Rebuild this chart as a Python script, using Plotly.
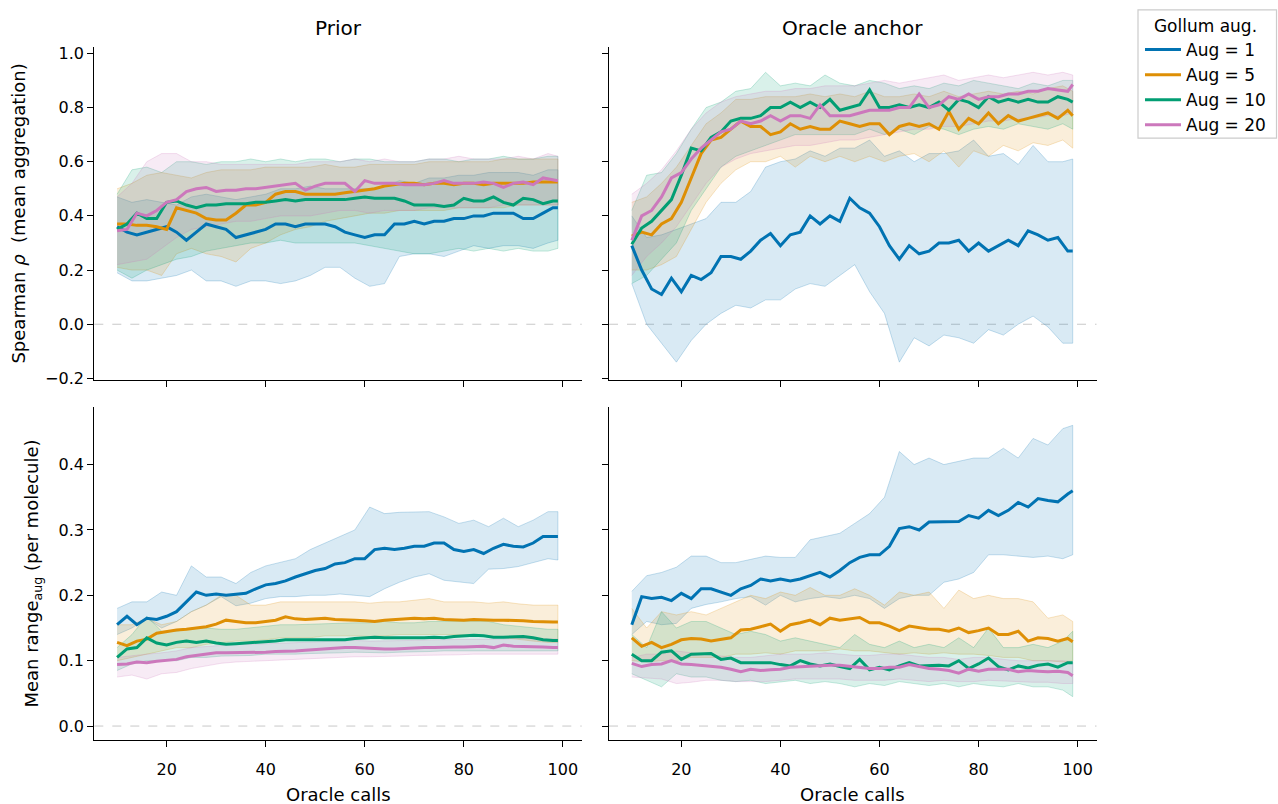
import plotly.graph_objects as go

# ---------------- data ----------------
XL = [10, 12, 14, 16, 18, 20, 22, 24, 26, 28, 30, 32, 34, 36, 38, 40, 42, 44, 46, 48,
      50, 52, 54, 56, 58, 60, 62, 64, 66, 68, 70, 72, 74, 76, 78, 80, 82, 84, 86, 88,
      90, 92, 94, 96, 98, 99]
XB = [10, 13, 16, 19, 22, 25, 28, 31, 34, 37, 40, 43, 46, 49, 52, 55, 58, 61, 64, 67,
      70, 73, 76, 79, 82, 85, 88, 91, 94, 97, 99]

series_names = ["Aug = 1", "Aug = 5", "Aug = 10", "Aug = 20"]
x_ticks = [20, 40, 60, 80, 100]
top_y_ticks = [-0.2, 0.0, 0.2, 0.4, 0.6, 0.8, 1.0]
bot_y_ticks = [0.0, 0.1, 0.2, 0.3, 0.4]

# ---- Prior, Spearman (top-left) ----
tl_mean_1 = [0.36, 0.34, 0.33, 0.34, 0.35, 0.36, 0.34, 0.31, 0.34, 0.37, 0.36, 0.35, 0.32, 0.33, 0.34, 0.35, 0.37, 0.37, 0.36, 0.37,
             0.37, 0.37, 0.36, 0.34, 0.33, 0.32, 0.33, 0.33, 0.37, 0.37, 0.38, 0.37, 0.38, 0.38, 0.39, 0.39, 0.40, 0.40, 0.41, 0.41,
             0.41, 0.39, 0.39, 0.41, 0.43, 0.43]
tl_mean_5 = [0.37, 0.37, 0.365, 0.365, 0.36, 0.35, 0.43, 0.42, 0.41, 0.39, 0.385, 0.385, 0.41, 0.44, 0.44, 0.45, 0.48, 0.49, 0.49, 0.48,
             0.48, 0.48, 0.48, 0.485, 0.49, 0.495, 0.50, 0.51, 0.515, 0.52, 0.52, 0.515, 0.52, 0.52, 0.515, 0.52, 0.52, 0.515, 0.52, 0.52,
             0.52, 0.52, 0.525, 0.525, 0.525, 0.525]
tl_mean_10 = [0.35, 0.37, 0.41, 0.39, 0.39, 0.45, 0.455, 0.44, 0.43, 0.44, 0.44, 0.445, 0.445, 0.445, 0.45, 0.45, 0.455, 0.46, 0.455, 0.46,
              0.46, 0.46, 0.46, 0.46, 0.465, 0.47, 0.465, 0.465, 0.465, 0.455, 0.44, 0.44, 0.44, 0.435, 0.44, 0.465, 0.455, 0.455, 0.47, 0.45,
              0.44, 0.465, 0.46, 0.445, 0.455, 0.455]
tl_mean_20 = [0.345, 0.35, 0.41, 0.40, 0.42, 0.45, 0.46, 0.49, 0.50, 0.505, 0.49, 0.495, 0.495, 0.50, 0.50, 0.505, 0.51, 0.515, 0.52, 0.495,
              0.51, 0.52, 0.52, 0.52, 0.49, 0.53, 0.52, 0.52, 0.52, 0.515, 0.515, 0.515, 0.52, 0.53, 0.52, 0.52, 0.52, 0.525, 0.52, 0.505,
              0.52, 0.525, 0.515, 0.54, 0.535, 0.53]
tl_hi_1 = [0.47, 0.45, 0.46, 0.45, 0.44, 0.47, 0.48, 0.47, 0.46, 0.47, 0.48, 0.50, 0.50, 0.51, 0.50, 0.50, 0.50, 0.50, 0.51, 0.53,
           0.52, 0.54, 0.54, 0.55, 0.55, 0.56, 0.56, 0.56, 0.55, 0.57, 0.57]
tl_lo_1 = [0.19, 0.16, 0.16, 0.17, 0.18, 0.20, 0.16, 0.16, 0.14, 0.16, 0.16, 0.15, 0.16, 0.18, 0.21, 0.21, 0.17, 0.14, 0.15, 0.25,
           0.26, 0.26, 0.25, 0.27, 0.29, 0.28, 0.29, 0.29, 0.28, 0.30, 0.31]
tl_hi_5 = [0.50, 0.52, 0.55, 0.56, 0.55, 0.54, 0.56, 0.57, 0.57, 0.57, 0.58, 0.58, 0.58, 0.58, 0.59, 0.58, 0.58, 0.59, 0.59, 0.59,
           0.59, 0.60, 0.60, 0.60, 0.60, 0.60, 0.61, 0.61, 0.61, 0.61, 0.61]
tl_lo_5 = [0.21, 0.20, 0.20, 0.18, 0.26, 0.28, 0.26, 0.25, 0.23, 0.28, 0.30, 0.33, 0.35, 0.36, 0.38, 0.39, 0.40, 0.41, 0.41, 0.42,
           0.42, 0.42, 0.42, 0.43, 0.43, 0.43, 0.43, 0.44, 0.44, 0.44, 0.44]
tl_hi_10 = [0.48, 0.57, 0.58, 0.56, 0.60, 0.60, 0.59, 0.60, 0.60, 0.61, 0.60, 0.61, 0.60, 0.61, 0.61, 0.60, 0.61, 0.61, 0.60, 0.60,
            0.60, 0.61, 0.61, 0.60, 0.61, 0.61, 0.62, 0.61, 0.61, 0.62, 0.62]
tl_lo_10 = [0.20, 0.17, 0.20, 0.22, 0.24, 0.25, 0.27, 0.28, 0.29, 0.30, 0.30, 0.31, 0.30, 0.30, 0.30, 0.30, 0.30, 0.29, 0.28, 0.27,
            0.26, 0.26, 0.27, 0.28, 0.27, 0.28, 0.27, 0.28, 0.27, 0.27, 0.28]
tl_hi_20 = [0.47, 0.52, 0.60, 0.63, 0.63, 0.60, 0.60, 0.59, 0.59, 0.59, 0.59, 0.59, 0.59, 0.60, 0.60, 0.60, 0.61, 0.60, 0.61, 0.60,
            0.60, 0.61, 0.61, 0.62, 0.61, 0.61, 0.61, 0.62, 0.61, 0.63, 0.62]
tl_lo_20 = [0.22, 0.23, 0.24, 0.28, 0.32, 0.35, 0.36, 0.37, 0.38, 0.38, 0.39, 0.40, 0.40, 0.40, 0.41, 0.42, 0.42, 0.41, 0.42, 0.42,
            0.42, 0.43, 0.43, 0.43, 0.43, 0.43, 0.44, 0.44, 0.44, 0.44, 0.44]

# ---- Oracle anchor, Spearman (top-right) ----
tr_mean_1 = [0.29, 0.20, 0.13, 0.11, 0.17, 0.12, 0.18, 0.165, 0.19, 0.25, 0.25, 0.24, 0.27, 0.31, 0.335, 0.29, 0.33, 0.34, 0.40, 0.37,
             0.40, 0.38, 0.465, 0.43, 0.41, 0.36, 0.29, 0.24, 0.29, 0.26, 0.27, 0.30, 0.30, 0.31, 0.27, 0.30, 0.27, 0.29, 0.31, 0.29,
             0.345, 0.33, 0.31, 0.32, 0.27, 0.27]
tr_mean_5 = [0.325, 0.34, 0.33, 0.37, 0.39, 0.45, 0.54, 0.63, 0.68, 0.69, 0.72, 0.75, 0.73, 0.73, 0.70, 0.71, 0.74, 0.72, 0.73, 0.72,
             0.72, 0.75, 0.74, 0.73, 0.74, 0.74, 0.70, 0.73, 0.74, 0.73, 0.74, 0.72, 0.785, 0.72, 0.76, 0.74, 0.78, 0.74, 0.77, 0.75,
             0.76, 0.77, 0.78, 0.76, 0.79, 0.77]
tr_mean_10 = [0.295, 0.355, 0.38, 0.42, 0.46, 0.55, 0.65, 0.64, 0.69, 0.71, 0.75, 0.76, 0.76, 0.77, 0.80, 0.80, 0.82, 0.80, 0.82, 0.80,
              0.83, 0.79, 0.80, 0.81, 0.865, 0.80, 0.80, 0.81, 0.80, 0.81, 0.80, 0.82, 0.79, 0.83, 0.82, 0.80, 0.84, 0.82, 0.83, 0.82,
              0.83, 0.82, 0.82, 0.84, 0.83, 0.82]
tr_mean_20 = [0.31, 0.40, 0.42, 0.47, 0.54, 0.56, 0.61, 0.65, 0.68, 0.71, 0.72, 0.75, 0.74, 0.75, 0.77, 0.75, 0.77, 0.77, 0.76, 0.81,
              0.77, 0.77, 0.77, 0.78, 0.79, 0.79, 0.79, 0.80, 0.80, 0.85, 0.80, 0.81, 0.84, 0.83, 0.85, 0.83, 0.84, 0.84, 0.85, 0.85,
              0.86, 0.86, 0.87, 0.865, 0.86, 0.885]
tr_hi_1 = [0.40, 0.32, 0.33, 0.35, 0.37, 0.39, 0.45, 0.45, 0.49, 0.58, 0.60, 0.61, 0.64, 0.62, 0.65, 0.65, 0.68, 0.62, 0.64, 0.60,
           0.63, 0.63, 0.64, 0.68, 0.62, 0.63, 0.59, 0.66, 0.60, 0.60, 0.61]
tr_lo_1 = [0.15, 0.0, -0.07, -0.14, -0.06, 0.0, 0.04, 0.07, 0.06, 0.09, 0.09, 0.13, 0.15, 0.14, 0.18, 0.22, 0.12, 0.04, -0.14, -0.05,
           -0.08, -0.04, -0.05, -0.07, -0.02, -0.04, 0.0, 0.03, -0.01, -0.07, -0.07]
tr_hi_5 = [0.45, 0.47, 0.52, 0.58, 0.66, 0.74, 0.78, 0.83, 0.83, 0.84, 0.84, 0.84, 0.85, 0.84, 0.85, 0.84, 0.86, 0.84, 0.84, 0.85,
           0.84, 0.86, 0.84, 0.85, 0.86, 0.85, 0.86, 0.85, 0.87, 0.88, 0.86]
tr_lo_5 = [0.20, 0.20, 0.22, 0.25, 0.35, 0.45, 0.52, 0.57, 0.60, 0.60, 0.62, 0.58, 0.62, 0.60, 0.62, 0.60, 0.62, 0.60, 0.62, 0.63,
           0.60, 0.64, 0.58, 0.64, 0.62, 0.66, 0.64, 0.67, 0.66, 0.68, 0.65]
tr_hi_10 = [0.42, 0.55, 0.56, 0.63, 0.72, 0.80, 0.82, 0.86, 0.87, 0.93, 0.88, 0.89, 0.88, 0.92, 0.89, 0.88, 0.90, 0.89, 0.87, 0.88,
            0.87, 0.89, 0.88, 0.90, 0.89, 0.88, 0.87, 0.89, 0.88, 0.90, 0.90]
tr_lo_10 = [0.15, 0.18, 0.24, 0.30, 0.42, 0.50, 0.58, 0.62, 0.64, 0.66, 0.68, 0.70, 0.70, 0.70, 0.70, 0.70, 0.72, 0.70, 0.72, 0.70,
            0.73, 0.72, 0.70, 0.72, 0.73, 0.72, 0.74, 0.73, 0.72, 0.74, 0.72]
tr_hi_20 = [0.48, 0.52, 0.57, 0.64, 0.72, 0.78, 0.82, 0.84, 0.85, 0.86, 0.86, 0.87, 0.87, 0.88, 0.88, 0.88, 0.89, 0.90, 0.89, 0.90,
            0.91, 0.92, 0.90, 0.91, 0.92, 0.91, 0.92, 0.93, 0.92, 0.93, 0.92]
tr_lo_20 = [0.18, 0.25, 0.30, 0.36, 0.44, 0.52, 0.58, 0.61, 0.63, 0.64, 0.65, 0.66, 0.66, 0.67, 0.68, 0.68, 0.69, 0.70, 0.71, 0.72,
            0.72, 0.73, 0.73, 0.74, 0.75, 0.75, 0.76, 0.76, 0.77, 0.77, 0.78]

# ---- Prior, mean range (bottom-left) ----
bl_mean_1 = [0.155, 0.168, 0.155, 0.165, 0.163, 0.168, 0.175, 0.19, 0.205, 0.20, 0.202, 0.20, 0.202, 0.203, 0.21, 0.216, 0.218, 0.222, 0.228, 0.233,
             0.238, 0.241, 0.248, 0.25, 0.256, 0.256, 0.27, 0.272, 0.27, 0.272, 0.275, 0.275, 0.28, 0.28, 0.27, 0.267, 0.27, 0.264, 0.272, 0.278,
             0.275, 0.274, 0.28, 0.29, 0.29, 0.29]
bl_mean_5 = [0.128, 0.123, 0.13, 0.133, 0.142, 0.145, 0.147, 0.148, 0.15, 0.152, 0.156, 0.162, 0.16, 0.158, 0.158, 0.16, 0.162, 0.167, 0.164, 0.163,
             0.164, 0.165, 0.163, 0.163, 0.162, 0.161, 0.16, 0.162, 0.163, 0.164, 0.165, 0.164, 0.165, 0.163, 0.162, 0.162, 0.163, 0.162, 0.162, 0.162,
             0.162, 0.161, 0.16, 0.159, 0.159, 0.159]
bl_mean_10 = [0.105, 0.118, 0.12, 0.135, 0.127, 0.124, 0.128, 0.13, 0.128, 0.13, 0.127, 0.125, 0.126, 0.127, 0.127, 0.128, 0.13, 0.132, 0.132, 0.133,
              0.133, 0.133, 0.133, 0.132, 0.134, 0.135, 0.136, 0.135, 0.135, 0.134, 0.135, 0.135, 0.136, 0.135, 0.137, 0.138, 0.139, 0.138, 0.136, 0.136,
              0.137, 0.137, 0.135, 0.132, 0.131, 0.131]
bl_mean_20 = [0.094, 0.095, 0.098, 0.097, 0.099, 0.1, 0.102, 0.106, 0.108, 0.111, 0.112, 0.112, 0.112, 0.112, 0.113, 0.113, 0.114, 0.114, 0.115, 0.116,
              0.117, 0.118, 0.12, 0.12, 0.12, 0.119, 0.118, 0.118, 0.118, 0.119, 0.12, 0.12, 0.12, 0.121, 0.121, 0.121, 0.122, 0.122, 0.12, 0.124,
              0.122, 0.122, 0.122, 0.121, 0.12, 0.12]
bl_hi_1 = [0.18, 0.19, 0.19, 0.205, 0.20, 0.245, 0.228, 0.228, 0.218, 0.235, 0.245, 0.25, 0.256, 0.27, 0.28, 0.29, 0.30, 0.335, 0.325, 0.327,
           0.327, 0.328, 0.32, 0.31, 0.315, 0.305, 0.318, 0.305, 0.315, 0.328, 0.328]
bl_lo_1 = [0.14, 0.15, 0.165, 0.15, 0.16, 0.175, 0.185, 0.198, 0.184, 0.188, 0.195, 0.198, 0.198, 0.20, 0.20, 0.202, 0.20, 0.198, 0.21, 0.22,
           0.228, 0.233, 0.223, 0.221, 0.218, 0.24, 0.241, 0.244, 0.25, 0.256, 0.254]
bl_hi_5 = [0.155, 0.155, 0.165, 0.155, 0.16, 0.175, 0.185, 0.20, 0.20, 0.185, 0.185, 0.19, 0.19, 0.19, 0.19, 0.19, 0.19, 0.188, 0.19, 0.19,
           0.192, 0.195, 0.19, 0.19, 0.19, 0.188, 0.19, 0.187, 0.185, 0.185, 0.185]
bl_lo_5 = [0.10, 0.105, 0.11, 0.115, 0.12, 0.12, 0.125, 0.128, 0.13, 0.13, 0.132, 0.135, 0.135, 0.135, 0.138, 0.138, 0.138, 0.137, 0.138, 0.14,
           0.14, 0.14, 0.14, 0.14, 0.138, 0.138, 0.135, 0.133, 0.13, 0.128, 0.128]
bl_hi_10 = [0.12, 0.14, 0.168, 0.145, 0.145, 0.15, 0.15, 0.148, 0.148, 0.15, 0.152, 0.155, 0.155, 0.156, 0.156, 0.157, 0.158, 0.158, 0.16, 0.158,
            0.158, 0.16, 0.16, 0.16, 0.16, 0.16, 0.155, 0.153, 0.15, 0.148, 0.148]
bl_lo_10 = [0.085, 0.095, 0.10, 0.10, 0.10, 0.105, 0.105, 0.107, 0.108, 0.108, 0.11, 0.11, 0.11, 0.111, 0.112, 0.112, 0.113, 0.113, 0.112, 0.113,
            0.114, 0.114, 0.115, 0.115, 0.115, 0.116, 0.116, 0.116, 0.115, 0.115, 0.115]
bl_hi_20 = [0.105, 0.108, 0.11, 0.112, 0.115, 0.12, 0.122, 0.124, 0.125, 0.125, 0.126, 0.127, 0.128, 0.129, 0.13, 0.13, 0.131, 0.13, 0.13, 0.13,
            0.131, 0.132, 0.132, 0.132, 0.133, 0.133, 0.133, 0.134, 0.134, 0.133, 0.133]
bl_lo_20 = [0.075, 0.078, 0.072, 0.08, 0.082, 0.088, 0.092, 0.096, 0.098, 0.10, 0.10, 0.101, 0.102, 0.103, 0.104, 0.105, 0.106, 0.106, 0.106, 0.107,
            0.108, 0.108, 0.109, 0.109, 0.11, 0.11, 0.11, 0.111, 0.11, 0.11, 0.11]

# ---- Oracle anchor, mean range (bottom-right) ----
br_mean_1 = [0.155, 0.198, 0.195, 0.197, 0.192, 0.203, 0.195, 0.21, 0.21, 0.205, 0.20, 0.21, 0.215, 0.225, 0.222, 0.225, 0.222, 0.225, 0.23, 0.235,
             0.228, 0.238, 0.25, 0.258, 0.262, 0.262, 0.275, 0.302, 0.305, 0.30, 0.312, 0.312, 0.313, 0.313, 0.322, 0.318, 0.33, 0.322, 0.33, 0.342,
             0.335, 0.348, 0.345, 0.343, 0.355, 0.36]
br_mean_5 = [0.135, 0.122, 0.128, 0.12, 0.125, 0.132, 0.134, 0.133, 0.13, 0.132, 0.135, 0.147, 0.148, 0.152, 0.156, 0.145, 0.155, 0.158, 0.162, 0.155,
             0.165, 0.162, 0.164, 0.166, 0.158, 0.158, 0.153, 0.146, 0.153, 0.15, 0.148, 0.148, 0.145, 0.15, 0.143, 0.146, 0.15, 0.14, 0.14, 0.145,
             0.13, 0.135, 0.134, 0.13, 0.134, 0.129]
br_mean_10 = [0.11, 0.10, 0.10, 0.113, 0.115, 0.102, 0.11, 0.111, 0.111, 0.102, 0.104, 0.097, 0.097, 0.096, 0.097, 0.094, 0.092, 0.10, 0.095, 0.092,
              0.095, 0.091, 0.088, 0.102, 0.086, 0.09, 0.086, 0.092, 0.097, 0.092, 0.093, 0.093, 0.092, 0.10, 0.088, 0.095, 0.104, 0.091, 0.086, 0.092,
              0.089, 0.093, 0.095, 0.09, 0.097, 0.097]
br_mean_20 = [0.096, 0.091, 0.094, 0.095, 0.10, 0.095, 0.094, 0.093, 0.092, 0.09, 0.087, 0.083, 0.087, 0.085, 0.086, 0.087, 0.09, 0.091, 0.092, 0.093,
              0.093, 0.093, 0.091, 0.09, 0.088, 0.088, 0.09, 0.09, 0.094, 0.091, 0.088, 0.087, 0.085, 0.081, 0.087, 0.084, 0.087, 0.087, 0.087, 0.083,
              0.085, 0.084, 0.083, 0.084, 0.082, 0.077]
br_hi_1 = [0.206, 0.23, 0.235, 0.243, 0.26, 0.26, 0.25, 0.25, 0.255, 0.26, 0.258, 0.258, 0.285, 0.29, 0.295, 0.31, 0.325, 0.35, 0.42, 0.40,
           0.41, 0.40, 0.405, 0.41, 0.41, 0.425, 0.41, 0.44, 0.43, 0.455, 0.46]
br_lo_1 = [0.14, 0.16, 0.155, 0.157, 0.18, 0.186, 0.19, 0.195, 0.198, 0.185, 0.20, 0.19, 0.195, 0.198, 0.195, 0.20, 0.195, 0.18, 0.195, 0.20,
           0.20, 0.22, 0.225, 0.235, 0.262, 0.262, 0.26, 0.258, 0.26, 0.256, 0.262]
br_hi_5 = [0.18, 0.15, 0.175, 0.17, 0.175, 0.17, 0.18, 0.19, 0.20, 0.195, 0.205, 0.20, 0.212, 0.20, 0.20, 0.21, 0.20, 0.185, 0.205, 0.20,
           0.205, 0.18, 0.208, 0.195, 0.20, 0.195, 0.195, 0.19, 0.165, 0.17, 0.16]
br_lo_5 = [0.10, 0.098, 0.10, 0.10, 0.105, 0.105, 0.105, 0.11, 0.11, 0.112, 0.11, 0.115, 0.115, 0.115, 0.118, 0.115, 0.115, 0.112, 0.11, 0.112,
           0.11, 0.112, 0.11, 0.11, 0.108, 0.105, 0.105, 0.10, 0.10, 0.098, 0.10]
br_hi_10 = [0.14, 0.12, 0.175, 0.15, 0.16, 0.16, 0.15, 0.14, 0.145, 0.14, 0.13, 0.135, 0.13, 0.125, 0.12, 0.14, 0.125, 0.12, 0.13, 0.12,
            0.125, 0.12, 0.135, 0.12, 0.15, 0.12, 0.12, 0.125, 0.12, 0.13, 0.145]
br_lo_10 = [0.08, 0.07, 0.06, 0.08, 0.075, 0.075, 0.07, 0.068, 0.07, 0.065, 0.068, 0.07, 0.065, 0.068, 0.065, 0.06, 0.065, 0.062, 0.068, 0.065,
            0.062, 0.065, 0.06, 0.065, 0.062, 0.06, 0.065, 0.06, 0.06, 0.055, 0.045]
br_hi_20 = [0.105, 0.11, 0.11, 0.115, 0.112, 0.11, 0.108, 0.105, 0.105, 0.108, 0.11, 0.11, 0.11, 0.112, 0.11, 0.108, 0.108, 0.11, 0.11, 0.108,
            0.105, 0.105, 0.102, 0.105, 0.105, 0.102, 0.10, 0.10, 0.10, 0.10, 0.098]
br_lo_20 = [0.075, 0.074, 0.072, 0.065, 0.067, 0.07, 0.07, 0.068, 0.068, 0.068, 0.07, 0.072, 0.072, 0.072, 0.072, 0.07, 0.07, 0.07, 0.072, 0.07,
            0.068, 0.07, 0.068, 0.068, 0.07, 0.068, 0.068, 0.067, 0.067, 0.065, 0.065]

# ---------------- styling ----------------
COLORS = ["#0173b2", "#de8f05", "#029e73", "#cc78bc"]
RGB = [(1, 115, 178), (222, 143, 5), (2, 158, 115), (204, 120, 188)]
FONT = "DejaVu Sans"
W, H = 1278, 804

panels = [
    ("x", "y", [tl_mean_1, tl_mean_5, tl_mean_10, tl_mean_20],
     [(tl_lo_1, tl_hi_1), (tl_lo_5, tl_hi_5), (tl_lo_10, tl_hi_10), (tl_lo_20, tl_hi_20)]),
    ("x2", "y2", [tr_mean_1, tr_mean_5, tr_mean_10, tr_mean_20],
     [(tr_lo_1, tr_hi_1), (tr_lo_5, tr_hi_5), (tr_lo_10, tr_hi_10), (tr_lo_20, tr_hi_20)]),
    ("x3", "y3", [bl_mean_1, bl_mean_5, bl_mean_10, bl_mean_20],
     [(bl_lo_1, bl_hi_1), (bl_lo_5, bl_hi_5), (bl_lo_10, bl_hi_10), (bl_lo_20, bl_hi_20)]),
    ("x4", "y4", [br_mean_1, br_mean_5, br_mean_10, br_mean_20],
     [(br_lo_1, br_hi_1), (br_lo_5, br_hi_5), (br_lo_10, br_hi_10), (br_lo_20, br_hi_20)]),
]

fig = go.Figure()
for pi, (xa, ya, means, bands) in enumerate(panels):
    for si, (lo, hi) in enumerate(bands):
        r, g, b = RGB[si]
        fig.add_trace(go.Scatter(
            x=XB + XB[::-1], y=hi + lo[::-1], xaxis=xa, yaxis=ya,
            fill="toself", fillcolor=f"rgba({r},{g},{b},0.15)",
            line=dict(color=f"rgba({r},{g},{b},0.22)", width=1),
            mode="lines", hoverinfo="skip", showlegend=False))
    for si, m in enumerate(means):
        fig.add_trace(go.Scatter(
            x=XL, y=m, xaxis=xa, yaxis=ya, mode="lines",
            line=dict(color=COLORS[si], width=3),
            name=series_names[si], showlegend=(pi == 0)))

xd1 = [94.3 / W, 581.7 / W]
xd2 = [609 / W, 1096.5 / W]
yd_top = [1 - 382 / H, 1 - 45 / H]
yd_bot = [1 - 747 / H, 1 - 410 / H]
xr = [5.4, 103.8]

common = dict(showline=True, linecolor="black", linewidth=1.3, ticks="outside",
              ticklen=6, tickwidth=1.3, tickcolor="black", showgrid=False,
              zeroline=False, tickfont=dict(family=FONT, size=16, color="black"))

fig.update_layout(
    width=W, height=H, margin=dict(l=0, r=0, t=0, b=0),
    plot_bgcolor="white", paper_bgcolor="white",
    font=dict(family=FONT, color="black", size=16),
    xaxis=dict(domain=xd1, anchor="y", range=xr, tickvals=x_ticks, showticklabels=False, **common),
    yaxis=dict(domain=yd_top, anchor="x", range=[-0.205, 1.022], tickvals=top_y_ticks,
               ticktext=["\u22120.2", "0.0", "0.2", "0.4", "0.6", "0.8", "1.0"], **common),
    xaxis2=dict(domain=xd2, anchor="y2", range=xr, tickvals=x_ticks, showticklabels=False, **common),
    yaxis2=dict(domain=yd_top, anchor="x2", range=[-0.205, 1.022], tickvals=top_y_ticks, showticklabels=False, **common),
    xaxis3=dict(domain=xd1, anchor="y3", range=xr, tickvals=x_ticks, ticklabelstandoff=9, **common),
    yaxis3=dict(domain=yd_bot, anchor="x3", range=[-0.021, 0.4875], tickvals=bot_y_ticks,
                ticktext=["0.0", "0.1", "0.2", "0.3", "0.4"], **common),
    xaxis4=dict(domain=xd2, anchor="y4", range=xr, tickvals=x_ticks, ticklabelstandoff=9, **common),
    yaxis4=dict(domain=yd_bot, anchor="x4", range=[-0.021, 0.4875], tickvals=bot_y_ticks, showticklabels=False, **common),
    legend=dict(x=1140 / W, y=1 - 7 / H, xanchor="left", yanchor="top",
                borderwidth=0, bgcolor="rgba(0,0,0,0)",
                font=dict(family=FONT, size=17, color="black"),
                title=dict(text="Gollum aug.", side="top center", font=dict(family=FONT, size=17, color="black")),
                itemwidth=36, tracegroupgap=0),
    showlegend=True,
)

# legend frame (matplotlib-like)
fig.add_shape(type="rect", xref="paper", yref="paper",
              x0=1138 / W, x1=1276.5 / W, y0=1 - 137 / H, y1=1 - 7 / H,
              line=dict(color="#cccccc", width=1.2), fillcolor="white", layer="above")

# dashed zero reference lines
for xa, ya in [("x", "y"), ("x2", "y2"), ("x3", "y3"), ("x4", "y4")]:
    fig.add_shape(type="line", xref=f"{xa} domain", yref=ya, x0=0, x1=1, y0=0, y1=0,
                  line=dict(color="#c8c8c8", width=1, dash="dash"), layer="below")

ann = []
ann.append(dict(text="Prior", x=(xd1[0] + xd1[1]) / 2, y=1 - 25 / H, xref="paper", yref="paper",
                showarrow=False, font=dict(family=FONT, size=20, color="black"), xanchor="center", yanchor="middle"))
ann.append(dict(text="Oracle anchor", x=(xd2[0] + xd2[1]) / 2, y=1 - 25 / H, xref="paper", yref="paper",
                showarrow=False, font=dict(family=FONT, size=20, color="black"), xanchor="center", yanchor="middle"))
for xd in (xd1, xd2):
    ann.append(dict(text="Oracle calls", x=(xd[0] + xd[1]) / 2, y=1 - 802 / H, xref="paper", yref="paper",
                    showarrow=False, font=dict(family=FONT, size=18, color="black"), xanchor="center", yanchor="middle"))
ann.append(dict(text="Spearman <i>ρ</i>  (mean aggregation)", x=19 / W, y=(yd_top[0] + yd_top[1]) / 2,
                xref="paper", yref="paper", showarrow=False, textangle=-90,
                font=dict(family=FONT, size=18, color="black"), xanchor="center", yanchor="middle"))
ann.append(dict(text="Mean range<sub>aug</sub> (per molecule)", x=33 / W, y=(yd_bot[0] + yd_bot[1]) / 2,
                xref="paper", yref="paper", showarrow=False, textangle=-90,
                font=dict(family=FONT, size=18, color="black"), xanchor="center", yanchor="middle"))
fig.update_layout(annotations=ann)

fig.write_html("out.html", config={"displayModeBar": False},
               post_script="document.body.style.margin='0px';document.body.style.overflow='hidden';")
